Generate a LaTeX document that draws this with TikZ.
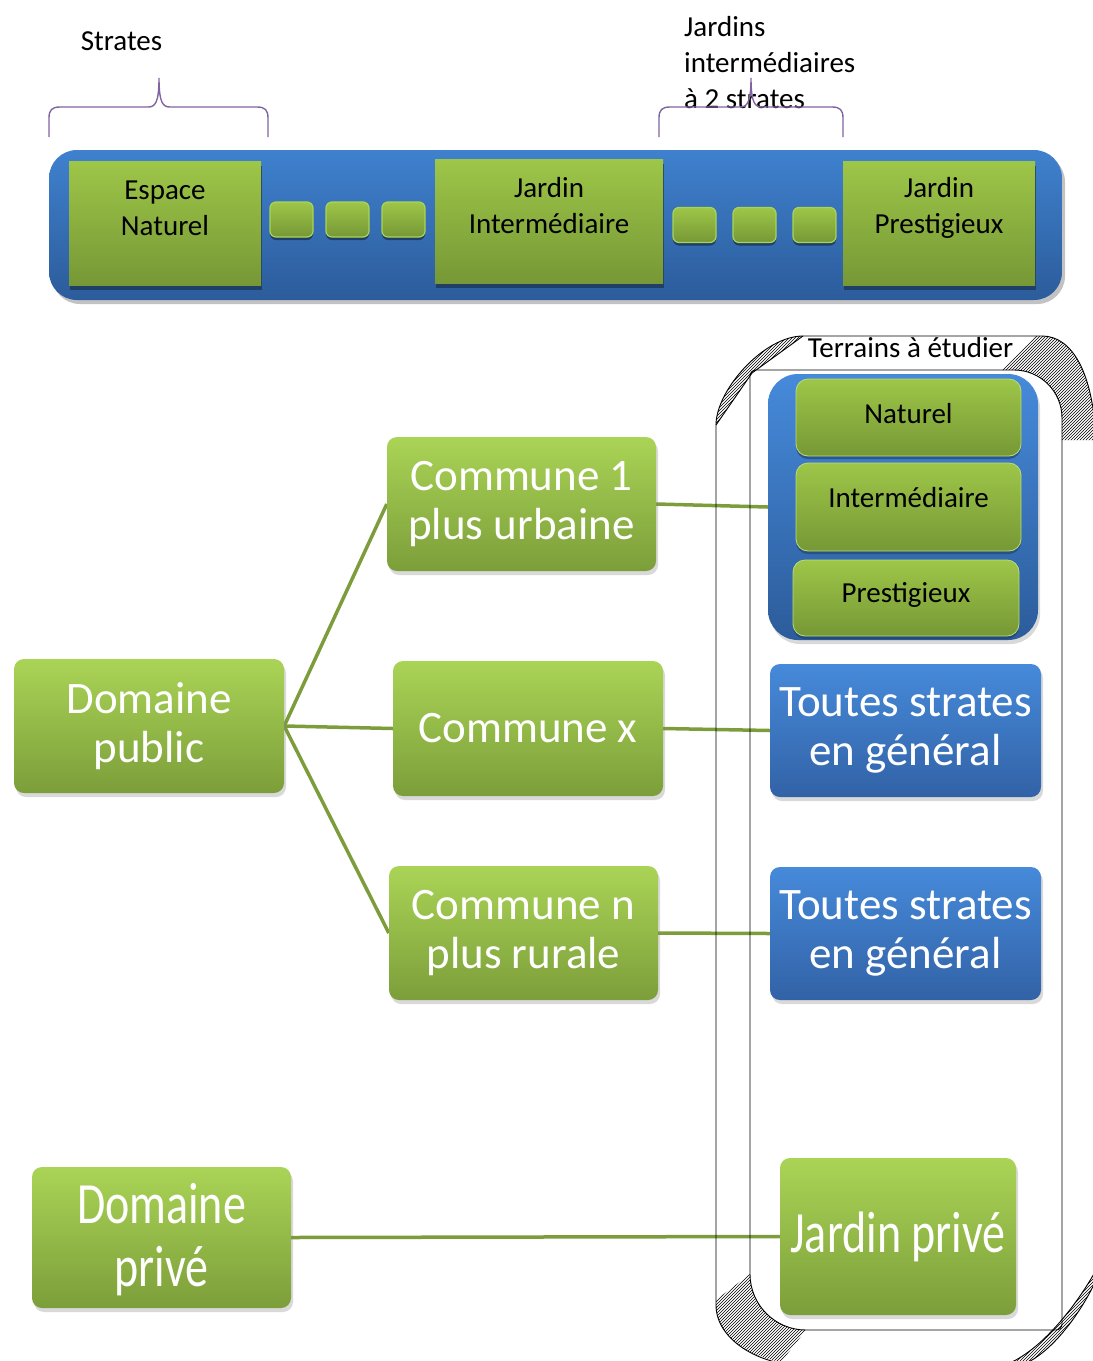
\documentclass[tikz,border=0pt]{standalone}
\usepackage{fontspec}
\setmainfont{Carlito}
\usetikzlibrary{shadows,patterns,backgrounds}

\definecolor{barTop}{RGB}{63,129,206}
\definecolor{barBot}{RGB}{44,92,155}
\definecolor{sGreenTop}{RGB}{158,198,72}
\definecolor{sGreenBot}{RGB}{118,152,54}
\definecolor{navyShade}{RGB}{31,62,104}
\definecolor{gTop}{RGB}{170,212,86}
\definecolor{gBot}{RGB}{124,158,58}
\definecolor{bTop}{RGB}{70,138,218}
\definecolor{bBot}{RGB}{50,98,166}
\definecolor{linkGreen}{RGB}{125,157,60}
\definecolor{braceViolet}{RGB}{128,100,162}

\tikzset{
  smalltxt/.style={font=\fontsize{29}{36}\selectfont, text=black, inner sep=0pt, align=center},
  bigtxt/.style={font=\fontsize{45}{49}\selectfont},
  barshape/.style={rectangle, rounded corners=28pt, top color=barTop, bottom color=barBot,
    drop shadow={shadow xshift=3pt, shadow yshift=-4pt, fill=black!40, opacity=.6}},
  stratebox/.style={rectangle, top color=sGreenTop, bottom color=sGreenBot, inner sep=0pt,
    drop shadow={shadow xshift=1pt, shadow yshift=-5pt, fill=navyShade, opacity=1}},
  pavebox/.style={rectangle, rounded corners=6pt, top color=sGreenTop, bottom color=sGreenBot,
    draw=gTop, line width=1.2pt, minimum width=43pt, minimum height=35pt,
    drop shadow={shadow xshift=0pt, shadow yshift=-3pt, fill=navyShade, opacity=1}},
  gbox/.style={rectangle, rounded corners=10pt, top color=gTop, bottom color=gBot, text=white,
    align=center, inner sep=2pt, bigtxt,
    drop shadow={shadow xshift=2pt, shadow yshift=-4pt, opacity=.3}},
  bbox/.style={gbox, top color=bTop, bottom color=bBot},
  cbox/.style={rectangle, rounded corners=12pt, top color=sGreenTop, bottom color=sGreenBot,
    draw=gTop!80!white, line width=0.8pt, smalltxt,
    drop shadow={shadow xshift=0pt, shadow yshift=-3pt, fill=navyShade, opacity=.6}},
  link/.style={draw=linkGreen, line width=3.5pt},
  brace/.style={draw=braceViolet, line width=1.4pt},
  frameline/.style={draw=black, line width=0.9pt},
  hatch/.style={pattern=north east lines},
}
\newcommand{\tallstack}[2]{\raisebox{-5pt}[\height][\depth]{\scalebox{1}[1.27]{\begin{tabular}{@{}c@{}}#1\\#2\end{tabular}}}}

\begin{document}
\begin{tikzpicture}[x=1pt,y=1pt,yscale=-1,xscale=1]
\useasboundingbox (0,0) rectangle (1093,1361);

%Strates bar
\node[barshape, minimum width=1013pt, minimum height=150pt] (bar) at (555.5,225) {};
\node[stratebox, minimum width=192pt, minimum height=124pt] (espace) at (165,223) {};
\node[stratebox, minimum width=228pt, minimum height=124pt] (jint) at (549,221) {};
\node[stratebox, minimum width=192pt, minimum height=124pt] (jpres) at (939,223) {};
\foreach \i/\x in {1/291.5,2/347.5,3/403.5}
  \node[pavebox] (pa\i) at (\x,219.5) {};
\foreach \i/\x in {1/694.5,2/754.5,3/814.5}
  \node[pavebox] (pb\i) at (\x,225) {};

% Text Node
\node[smalltxt] (espacetxt) at (165,208) {Espace\\Naturel};
\node[smalltxt] (jinttxt) at (549,206) {Jardin\\Intermédiaire};
\node[smalltxt] (jprestxt) at (939,208) {Jardin\\Prestigieux};
\node[smalltxt, anchor=base] (strates) at (121.5,50) {Strates};
\node[smalltxt, anchor=north west, align=left] (jinter) at (684,16) {Jardins\\intermédiaires\\à 2 strates};

%Braces
\draw[brace] (49,137) -- (49,118) .. controls (49,110) and (52,107) .. (60,107) -- (148,107) .. controls (155,107) and (159,103) .. (159,78) .. controls (159,103) and (163,107) .. (170,107) -- (257,107) .. controls (265,107) and (268,110) .. (268,118) -- (268,137);
\draw[brace] (659,137) -- (659,118) .. controls (659,110) and (662,107) .. (670,107) -- (740,107) .. controls (747,107) and (751,103) .. (751,78) .. controls (751,103) and (755,107) .. (762,107) -- (832,107) .. controls (840,107) and (843,110) .. (843,118) -- (843,137);

%Terrains
\node[rectangle, rounded corners=30pt, top color=bTop, bottom color=barBot, minimum width=270pt, minimum height=266pt,
  drop shadow={shadow xshift=2pt, shadow yshift=-4pt, opacity=.3}] (terr) at (903,507) {};
\node[cbox, minimum width=225pt, minimum height=77pt, text depth=8pt] (nat) at (908.5,417.5) {Naturel};
\node[cbox, minimum width=225pt, minimum height=88pt, text depth=20pt] (inter) at (908.5,507) {Intermédiaire};
\node[cbox, minimum width=226pt, minimum height=76pt, text depth=11pt] (prest) at (906,598) {Prestigieux};
\node[smalltxt, anchor=base] (terrtxt) at (910.5,357) {Terrains à étudier};

%Domaines
\node[gbox, minimum width=270pt, minimum height=134pt] (dpub) at (149,726) {Domaine\\public};
\node[gbox, minimum width=269pt, minimum height=134pt] (c1) at (521.5,504) {Commune 1\\plus urbaine};
\node[gbox, minimum width=270pt, minimum height=135pt] (cx) at (528,728.5) {Commune x};
\node[gbox, minimum width=269pt, minimum height=134pt] (cn) at (523.5,933) {Commune n\\plus rurale};
\node[bbox, minimum width=271pt, minimum height=133pt] (ts1) at (905.5,730.5) {Toutes strates\\en général};
\node[bbox, minimum width=271pt, minimum height=133pt] (ts2) at (905.5,933.5) {Toutes strates\\en général};
\node[gbox, minimum width=259pt, minimum height=141pt, font=\fontsize{46}{49}\selectfont] (dpriv) at (161.5,1237.5) {\tallstack{Domaine}{privé}};
\node[gbox, minimum width=236pt, minimum height=157pt, font=\fontsize{46}{49}\selectfont] (jpriv) at (898,1236.5) {\scalebox{1}[1.27]{Jardin privé}};

\begin{scope}[on background layer]
%Straight Lines
\draw[link] (dpub.east) -- (c1.west);
\draw[link] (dpub.east) -- (cx.west);
\draw[link] (dpub.east) -- (cn.west);
\draw[link] (c1.east) -- (terr.west);
\draw[link] (cx.east) -- (ts1.west);
\draw[link] (cn.east) -- (ts2.west);
\draw[link] (dpriv.east) -- (jpriv.west);

%Shape: hatched frame
\fill[hatch] (716,425) .. controls (716,390) and (764,336) .. (803,336) -- (752,373) -- cycle;
\fill[hatch] (1036,336) -- (1042,336) .. controls (1072,336) and (1093,372) .. (1096,440) -- (1062,440) -- (1062,418) .. controls (1062,391.5) and (1040.5,370) .. (1014,370) -- (1002,370) -- cycle;
\fill[hatch] (716,1300) -- (750,1274) .. controls (750,1304.9) and (775.1,1330) .. (806,1330) -- (781,1362) .. controls (745,1355) and (716,1335) .. (716,1305) -- cycle;
\fill[hatch] (1096,1270) .. controls (1082,1296) and (1045,1350) .. (1005,1365) -- (1022,1365) .. controls (1055,1352) and (1085,1305) .. (1096,1280) -- cycle;
\draw[frameline] (716,1305) -- (716,425) .. controls (716,390) and (764,336) .. (803,336) -- (1042,336) .. controls (1072,336) and (1093,372) .. (1096,440);
\draw[frameline] (803,336) -- (752,373) -- (716,425);
\draw[frameline] (716,1305) .. controls (716,1340) and (760,1365) .. (800,1365);
\draw[frameline] (1096,1270) .. controls (1082,1296) and (1045,1350) .. (1005,1365);
\draw[frameline] (1096,1280) .. controls (1085,1305) and (1055,1352) .. (1022,1365);
\draw[frameline] (750,376) .. controls (750,372.7) and (752.7,370) .. (756,370) -- (1014,370) .. controls (1040.5,370) and (1062,391.5) .. (1062,418) -- (1062,1324) .. controls (1062,1327.3) and (1059.3,1330) .. (1056,1330) -- (806,1330) .. controls (775.1,1330) and (750,1304.9) .. (750,1274) -- cycle;
\end{scope}

\end{tikzpicture}
\end{document}
